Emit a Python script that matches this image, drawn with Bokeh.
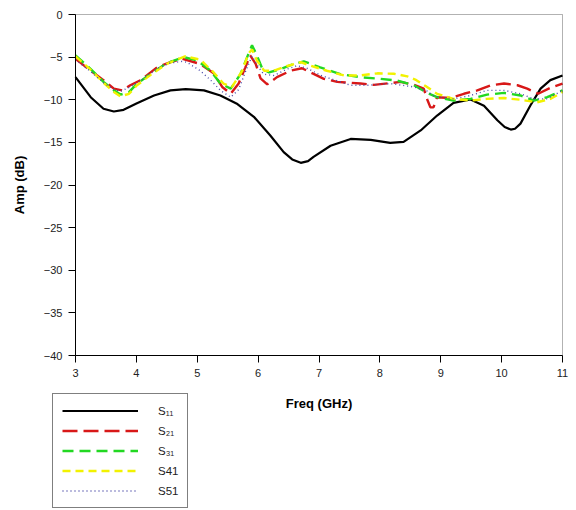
from bokeh.plotting import figure
from bokeh.models import Range1d, FixedTicker, Legend, LegendItem, BoxAnnotation
from bokeh.embed import file_html
from bokeh.resources import INLINE

# Frequency sweep (GHz) and magnitude (dB) for each S-parameter
s11_freq = [3.0, 3.25, 3.46, 3.63, 3.79, 4.01, 4.29, 4.56, 4.81, 5.11, 5.38, 5.66,
            5.93, 6.2, 6.42, 6.56, 6.7, 6.82, 6.91, 7.19, 7.52, 7.85, 8.17, 8.39,
            8.67, 8.94, 9.21, 9.49, 9.71, 9.93, 10.05, 10.15, 10.22, 10.31, 10.47,
            10.64, 10.8, 11.0]
s11_db = [-7.35, -9.7, -11.06, -11.38, -11.18, -10.4, -9.5, -8.9, -8.76, -8.9, -9.5,
          -10.5, -12.0, -14.2, -16.15, -17.0, -17.4, -17.2, -16.7, -15.4, -14.6,
          -14.7, -15.05, -14.95, -13.6, -11.85, -10.36, -9.97, -10.7, -12.4, -13.2,
          -13.5, -13.4, -12.8, -10.7, -8.7, -7.7, -7.15]

s21_freq = [3.0, 3.25, 3.46, 3.63, 3.77, 3.9, 4.07, 4.34, 4.55, 4.75, 5.05, 5.27,
            5.41, 5.55, 5.68, 5.79, 5.87, 5.96, 6.04, 6.15, 6.31, 6.53, 6.72, 7.08,
            7.3, 7.68, 7.9, 8.17, 8.34, 8.56, 8.72, 8.78, 8.83, 8.88, 8.94, 9.16,
            9.38, 9.6, 9.82, 10.04, 10.26, 10.42, 10.6, 10.8, 11.0]
s21_db = [-5.2, -6.6, -7.7, -8.7, -8.9, -8.3, -7.7, -6.2, -5.6, -5.2, -5.8, -6.9,
          -8.5, -9.3, -8.1, -6.2, -4.8, -5.8, -7.5, -8.2, -7.35, -6.6, -6.3, -7.55,
          -7.9, -8.1, -8.25, -8.05, -7.9, -8.25, -8.7, -10.0, -10.9, -10.9, -9.7,
          -9.8, -9.3, -8.9, -8.3, -8.1, -8.3, -8.7, -9.3, -8.6, -8.1]

s31_freq = [3.0, 3.25, 3.46, 3.63, 3.74, 3.88, 4.01, 4.23, 4.5, 4.78, 5.0, 5.22,
            5.38, 5.55, 5.71, 5.82, 5.9, 5.98, 6.07, 6.18, 6.37, 6.59, 6.75, 7.02,
            7.35, 7.68, 8.01, 8.28, 8.56, 8.78, 8.94, 9.21, 9.49, 9.76, 10.04, 10.31,
            10.53, 10.75, 11.0]
s31_db = [-4.8, -6.4, -7.9, -8.9, -9.4, -9.1, -8.1, -7.0, -5.7, -5.0, -5.4, -6.6,
          -8.1, -8.7, -7.0, -5.0, -3.6, -4.8, -6.4, -6.8, -6.4, -5.8, -5.5, -6.2,
          -7.0, -7.35, -7.55, -7.75, -8.3, -9.2, -9.7, -10.1, -9.9, -9.4, -9.2, -9.5,
          -10.1, -9.7, -8.9]

s41_freq = [3.0, 3.25, 3.46, 3.63, 3.74, 3.88, 4.01, 4.23, 4.5, 4.8, 5.05, 5.27,
            5.43, 5.57, 5.74, 5.84, 5.9, 5.98, 6.1, 6.25, 6.45, 6.7, 6.86, 7.13,
            7.41, 7.68, 7.96, 8.23, 8.45, 8.6, 8.75, 8.94, 9.21, 9.49, 9.76, 10.04,
            10.31, 10.58, 10.8, 11.0]
s41_db = [-4.9, -6.5, -8.0, -9.1, -9.6, -9.3, -8.3, -7.1, -5.8, -4.9, -5.3, -6.8,
          -8.1, -8.5, -6.6, -4.6, -4.1, -5.4, -6.6, -6.6, -6.1, -5.6, -6.0, -6.6,
          -7.15, -7.15, -6.9, -6.95, -7.25, -7.7, -8.4, -9.3, -9.9, -10.1, -9.9,
          -9.8, -10.0, -10.3, -9.9, -9.1]

s51_freq = [3.0, 3.25, 3.46, 3.63, 3.74, 3.9, 4.1, 4.35, 4.55, 4.75, 4.83, 5.05,
            5.22, 5.38, 5.55, 5.68, 5.82, 5.9, 5.98, 6.09, 6.26, 6.48, 6.64, 6.8,
            7.05, 7.52, 7.8, 8.17, 8.56, 8.78, 8.89, 9.21, 9.49, 9.76, 10.04, 10.31,
            10.53, 10.75, 11.0]
s51_db = [-5.3, -6.7, -8.0, -8.8, -9.0, -8.5, -7.6, -6.3, -5.7, -5.5, -5.6, -6.6,
          -7.7, -8.9, -9.7, -8.8, -6.2, -4.9, -5.9, -7.0, -7.15, -6.4, -6.0, -6.3,
          -7.2, -8.3, -8.3, -8.1, -8.5, -9.0, -9.6, -9.9, -9.5, -8.9, -8.9, -9.3,
          -9.9, -9.9, -8.9]

x_ticks = [3, 4, 5, 6, 7, 8, 9, 10, 11]
y_ticks = [0, -5, -10, -15, -20, -25, -30, -35, -40]
series_labels = ["S\u2081\u2081", "S\u2082\u2081", "S\u2083\u2081", "S41", "S51"]

FONT = "Liberation Sans"
W, H = 576, 510
# Plot box inside the canvas (pixels): left, right, top, bottom
BOX_L, BOX_R, BOX_T, BOX_B = 75, 562, 14, 355
X_LO, X_HI = x_ticks[0], x_ticks[-1]
Y_LO, Y_HI = y_ticks[-1], y_ticks[0]

# The drawing frame fills the whole canvas so the legend below the axes is not
# clipped; the ranges are widened so that 3..11 GHz / -40..0 dB land on the box.
kx = (BOX_R - BOX_L) / (X_HI - X_LO)
ky = (BOX_B - BOX_T) / (Y_HI - Y_LO)
x_range = Range1d(X_LO - BOX_L / kx, X_HI + (W - BOX_R) / kx)
y_range = Range1d(Y_LO - (H - BOX_B) / ky, Y_HI + BOX_T / ky)

# Line styles per series: (colour, width, dash)
styles = [
    ("#000000", 2.2, "solid"),
    ("#d81818", 2.4, "15 6"),
    ("#22d822", 2.4, "11 6"),
    ("#f2f200", 2.4, "8 5"),
    ("#4a4aa8", 1.4, "1 3"),
]
data = [(s11_freq, s11_db), (s21_freq, s21_db), (s31_freq, s31_db),
        (s41_freq, s41_db), (s51_freq, s51_db)]

p = figure(width=W, height=H, output_backend="svg", toolbar_location=None,
           x_range=x_range, y_range=y_range, title=None,
           min_border=0, min_border_left=0, min_border_right=0,
           min_border_top=0, min_border_bottom=0)

p.background_fill_color = "white"
p.border_fill_color = "white"
p.outline_line_color = None
p.xgrid.visible = False
p.ygrid.visible = False

# Axes pinned to the plot box edges
p.xaxis.fixed_location = Y_LO
p.xaxis.bounds = (X_LO, X_HI)
p.yaxis.fixed_location = X_LO
p.yaxis.bounds = (Y_LO, Y_HI)

for ax, ticks in ((p.xaxis, x_ticks), (p.yaxis, y_ticks)):
    ax.ticker = FixedTicker(ticks=ticks)
    ax.minor_tick_line_color = None
    ax.major_tick_in = 0
    ax.major_tick_out = 7
    ax.axis_line_color = "black"
    ax.major_tick_line_color = "black"
    ax.major_label_text_font = FONT
    ax.major_label_text_font_size = "11px"
    ax.major_label_text_color = "#222222"
    ax.axis_label_text_font = FONT
    ax.axis_label_text_font_size = "13px"
    ax.axis_label_text_font_style = "bold"
    ax.axis_label_text_color = "black"

p.xaxis.axis_label = "Freq (GHz)"
p.yaxis.axis_label = "Amp (dB)"
p.xaxis.major_label_standoff = 6
p.yaxis.major_label_standoff = 6
p.xaxis.axis_label_standoff = 16
p.yaxis.axis_label_standoff = 14

# Box outline around the plotting area
p.add_layout(BoxAnnotation(left=X_LO, right=X_HI, bottom=Y_LO, top=Y_HI,
                           fill_alpha=0, line_color="black", line_width=1))

items = []
for (freq, db), (color, width, dash), label in zip(data, styles, series_labels):
    r = p.line(freq, db, line_color=color, line_width=width, line_dash=dash)
    items.append(LegendItem(label=label, renderers=[r]))

# Boxed legend below the plot area, left of the axis title
legend = Legend(items=items, location=(52, 2), orientation="vertical",
                margin=0, padding=9, spacing=5,
                glyph_width=76, glyph_height=15, label_height=15,
                label_standoff=20, label_text_font=FONT,
                label_text_font_size="11.5px", label_text_color="#222222",
                border_line_color="black", border_line_width=1,
                background_fill_color="white", background_fill_alpha=1.0)
p.add_layout(legend, "center")

open("out.html", "w").write(file_html(p, INLINE))
